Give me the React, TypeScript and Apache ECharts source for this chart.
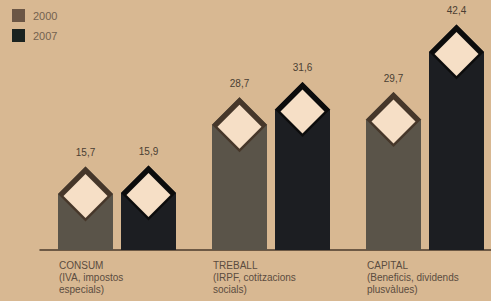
import React, { useEffect, useRef } from "react";
import * as echarts from "echarts";

const categories = ["CONSUM\n(IVA, impostos\nespecials)", "TREBALL\n(IRPF, cotitzacions\nsocials)", "CAPITAL\n(Beneficis, dividends\nplusvàlues)"];
const years = ["2000", "2007"];
const values2000 = [15.7, 28.7, 29.7];
const values2007 = [15.9, 31.6, 42.4];

const bodyColors = ["#5a5449", "#1c1e22"];
const frameColors = ["#46372a", "#0c0c0c"];
const legendColors = ["#6b5645", "#1b2320"];

function makeRender(idx: number) {
  return (params: any, api: any) => {
    const ci = api.value(0);
    const v = api.value(1);
    const band = api.size([1, 0])[0];
    const center = api.coord([ci, 0]);
    const top = api.coord([ci, v]);
    const baseY = center[1];
    const peakY = top[1];
    const scale = band / 154;
    const bw = 55 * scale;
    const gap = 4 * scale;
    const x0 = idx === 0 ? center[0] - gap - bw : center[0] + gap;
    const x1 = x0 + bw;
    const xc = (x0 + x1) / 2;
    const half = bw / 2;
    const shoulder = peakY + half;
    const inner = half - 5.5;
    const ic = shoulder + 2;
    const children: any[] = [
      {
        type: "polygon",
        shape: { points: [[x0, baseY], [x0, shoulder], [xc, peakY], [x1, shoulder], [x1, baseY]] },
        style: { fill: bodyColors[idx] },
      },
      {
        type: "polygon",
        shape: { points: [[xc, peakY], [x1, shoulder], [xc, shoulder + half], [x0, shoulder]] },
        style: { fill: frameColors[idx] },
      },
      {
        type: "polygon",
        shape: { points: [[xc, ic - inner], [xc + inner, ic], [xc, ic + inner], [xc - inner, ic]] },
        style: { fill: "#f6dfc6" },
      },
      {
        type: "text",
        style: {
          x: xc,
          y: peakY - 14,
          text: String(v).replace(".", ","),
          fill: "#4a3e33",
          font: "10px 'Liberation Sans', Arial, sans-serif",
          align: "center",
          verticalAlign: "middle",
        },
      },
    ];
    if (idx === 0) {
      children.push({
        type: "text",
        style: {
          x: x0 + 1,
          y: baseY + 9,
          text: categories[ci],
          fill: "#5b4c3f",
          font: "10px 'Liberation Sans', Arial, sans-serif",
          lineHeight: 12,
          align: "left",
          verticalAlign: "top",
        },
      });
    }
    return { type: "group", children };
  };
}

export default function App() {
  const ref = useRef<HTMLDivElement>(null);
  useEffect(() => {
    const chart = echarts.init(ref.current!, null, { renderer: "svg" });
    chart.setOption({
      animation: false,
      backgroundColor: "#d8b892",
      legend: {
        orient: "vertical",
        left: 12,
        top: 9,
        padding: 0,
        itemWidth: 13,
        itemHeight: 13,
        itemGap: 7,
        textStyle: { color: "#74624f", fontSize: 11, fontFamily: "'Liberation Sans', Arial, sans-serif", padding: [0, 0, 0, 3] },
        data: years.map((y, i) => ({ name: y, icon: "rect", itemStyle: { color: legendColors[i] } })),
      },
      grid: { left: 40, top: 0, height: 250, width: 462, outerBoundsMode: "none", containLabel: false },
      xAxis: {
        type: "category",
        data: categories,
        axisTick: { show: false },
        axisLabel: { show: false },
        axisLine: { lineStyle: { color: "#4a3a2c", width: 1.5 } },
      },
      yAxis: { type: "value", min: 0, max: 47, show: false, splitLine: { show: false } },
      series: [values2000, values2007].map((vals, idx) => ({
        type: "custom",
        name: years[idx],
        itemStyle: { color: legendColors[idx] },
        renderItem: makeRender(idx),
        encode: { x: 0, y: 1 },
        data: vals.map((v, i) => [i, v]),
        z: 3,
      })),
    });
    return () => chart.dispose();
  }, []);
  return <div ref={ref} style={{ width: 491, height: 301, position: "absolute", left: 0, top: 0 }} />;
}
